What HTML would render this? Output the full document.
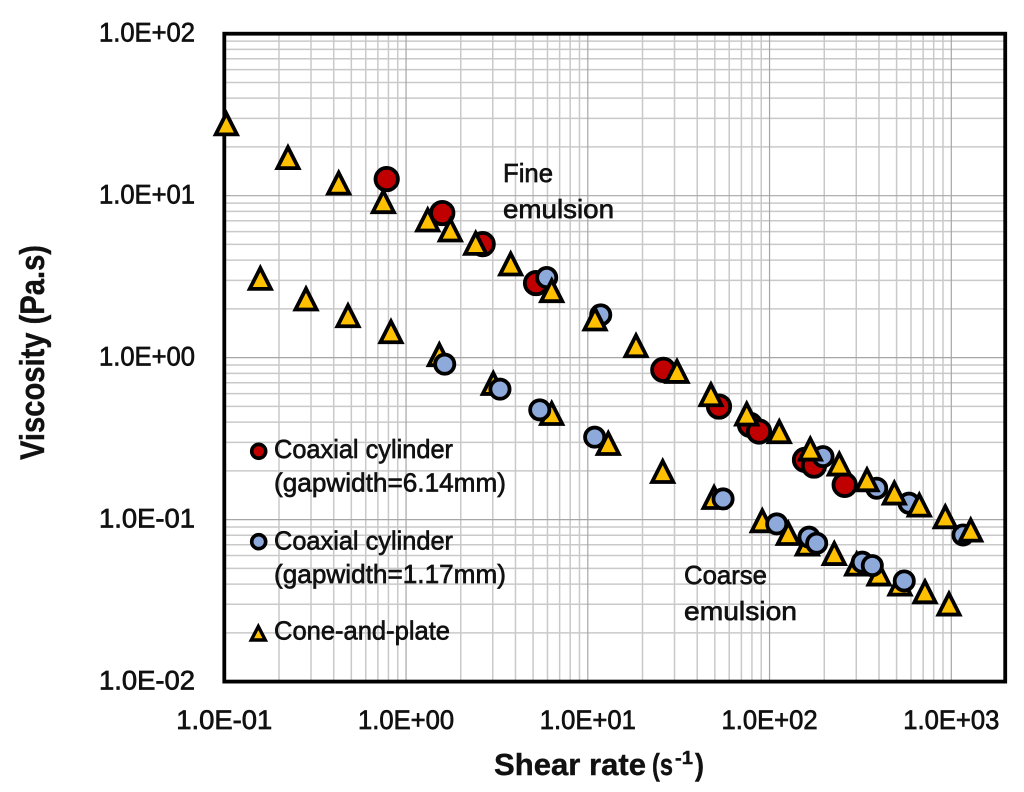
<!DOCTYPE html>
<html lang="en">
<head>
<meta charset="utf-8">
<title>Viscosity vs shear rate</title>
<style>
html,body{margin:0;padding:0;background:#fff;width:1024px;height:792px;overflow:hidden}
svg{display:block;filter:blur(.35px)}
text{font-family:"Liberation Sans",sans-serif;fill:#111}
.tick{font-size:26.5px;stroke:#111;stroke-width:.7px}
.lab{font-size:26px;stroke:#111;stroke-width:.65px}
.ttl{font-size:31px;font-weight:700;stroke:#111;stroke-width:.4px}
</style>
</head>
<body>
<svg id="chart" xmlns="http://www.w3.org/2000/svg" width="1024" height="792" viewBox="0 0 1024 792">
  <g id="grid"></g>
  <g id="frame"></g>
  <g id="ticks"></g>

  <g>
    <text class="ttl" x="494" y="775" textLength="152" lengthAdjust="spacingAndGlyphs">Shear rate</text>
    <text class="ttl" x="652" y="775" textLength="21" lengthAdjust="spacingAndGlyphs">(s</text>
    <text class="ttl" x="675" y="764" style="font-size:18px" textLength="18" lengthAdjust="spacingAndGlyphs">-1</text>
    <text class="ttl" x="695" y="775" textLength="9" lengthAdjust="spacingAndGlyphs">)</text>
  </g>
  <text class="ttl" transform="translate(44,460) rotate(-90)" x="0" y="0" style="font-size:34px" textLength="215" lengthAdjust="spacingAndGlyphs">Viscosity (Pa.s)</text>

  <g>
    <text class="lab" x="503" y="182" textLength="50" lengthAdjust="spacingAndGlyphs">Fine</text>
    <text class="lab" x="503" y="218" textLength="111" lengthAdjust="spacingAndGlyphs">emulsion</text>
  </g>
  <g>
    <text class="lab" x="684" y="584" textLength="83" lengthAdjust="spacingAndGlyphs">Coarse</text>
    <text class="lab" x="684" y="620" textLength="113" lengthAdjust="spacingAndGlyphs">emulsion</text>
  </g>

  <g id="marks"></g>

  <g>
    <g>
      <circle cx="258.7" cy="451.3" r="7" fill="#c00000" stroke="#000" stroke-width="3.6"></circle>
      <text class="lab" x="274" y="458" textLength="179" lengthAdjust="spacingAndGlyphs">Coaxial cylinder</text>
      <text class="lab" x="274" y="491.7" textLength="232" lengthAdjust="spacingAndGlyphs">(gapwidth=6.14mm)</text>
    </g>
    <g>
      <circle cx="258.7" cy="541.7" r="7" fill="#8eaadb" stroke="#000" stroke-width="3.6"></circle>
      <text class="lab" x="274" y="549.3" textLength="179" lengthAdjust="spacingAndGlyphs">Coaxial cylinder</text>
      <text class="lab" x="274" y="583" textLength="232" lengthAdjust="spacingAndGlyphs">(gapwidth=1.17mm)</text>
    </g>
    <g>
      <polygon points="258.3,626.5 251.3,640 265.3,640" fill="#ffc000" stroke="#000" stroke-width="3.4" stroke-linejoin="miter"></polygon>
      <text class="lab" x="274" y="639.3" textLength="176" lengthAdjust="spacingAndGlyphs">Cone-and-plate</text>
    </g>
  </g>
</svg>
<script>
const xTickLabels = ["1.0E-01", "1.0E+00", "1.0E+01", "1.0E+02", "1.0E+03"];
const yTickLabels = ["1.0E+02", "1.0E+01", "1.0E+00", "1.0E-01", "1.0E-02"];
const xDecades = [0.1, 1, 10, 100, 1000];
const yDecades = [100, 10, 1, 0.1, 0.01];
const minorSteps = [2, 3, 4, 5, 6, 7, 8, 9];
const xMax = 1980;
const yMin = 0.01;
const yMax = 100;

const fineRedX = [0.7826, 1.582, 2.64, 5.19, 26.03, 52.7, 78.1, 87.5, 156.7, 175.6, 259];
const fineRedY = [12.66, 7.81, 5.02, 2.886, 0.8407, 0.4989, 0.3845, 0.3497, 0.2337, 0.2156, 0.1638];

const fineBlueX = [5.94, 11.78, 196.9, 388.6, 585.3, 1160];
const fineBlueY = [3.124, 1.838, 0.2449, 0.1563, 0.1263, 0.0804];

const fineConeX = [0.1026, 0.224, 0.426, 0.75, 1.316, 1.752, 2.416, 3.765, 6.33, 10.96, 18.42, 30.96, 47.6, 74.9, 113.1, 167.6, 242, 343.7, 485.8, 666.6, 926.8, 1279];
const fineConeY = [28.1, 17.4, 12.1, 9.3, 7.17, 6.22, 5.14, 3.835, 2.623, 1.754, 1.2, 0.8325, 0.5976, 0.4541, 0.3531, 0.2761, 0.2231, 0.1784, 0.1477, 0.1245, 0.1054, 0.0872];

const coarseConeX = [0.1578, 0.2816, 0.4793, 0.8263, 1.524, 3.02, 6.33, 12.96, 25.83, 49.5, 91.2, 126.8, 161.3, 227.1, 301.6, 400.2, 522, 716.6, 971];
const coarseConeY = [3.124, 2.331, 1.838, 1.464, 1.056, 0.7019, 0.458, 0.299, 0.2008, 0.1387, 0.0996, 0.0831, 0.0715, 0.0625, 0.0538, 0.0467, 0.0405, 0.0363, 0.0305];

const coarseBlueX = [1.632, 3.287, 5.44, 10.91, 55.5, 109.5, 164.9, 181.7, 323.6, 367.6, 551];
const coarseBlueY = [0.9117, 0.6389, 0.4761, 0.3228, 0.1342, 0.0941, 0.0779, 0.0715, 0.0546, 0.052, 0.0418];

const NS = "http://www.w3.org/2000/svg";
const plotLeft = 224.3;
const plotTop = 33.7;
const xDecadePx = 181.75;
const yDecadePx = 161.97;

function xScale(v) {
  return plotLeft + (Math.log10(v) + 1) * xDecadePx;
}
function yScale(v) {
  return plotTop + (2 - Math.log10(v)) * yDecadePx;
}

const gridGroup = document.getElementById("grid");
const frameGroup = document.getElementById("frame");
const tickGroup = document.getElementById("ticks");
const markGroup = document.getElementById("marks");

function gridLine(x1, y1, x2, y2, major) {
  const el = document.createElementNS(NS, "line");
  
  
  el.setAttribute("x1", x1);
  el.setAttribute("y1", y1);
  el.setAttribute("x2", x2);
  el.setAttribute("y2", y2);
  el.setAttribute("stroke", major ? "#a6a6a6" : "#c9c9c9");
  el.setAttribute("stroke-width", major ? 1.2 : 1.5);
  gridGroup.appendChild(el);
}

const left = xScale(0.1);
const right = xScale(xMax);
const top_ = yScale(yMax);
const bottom = yScale(yMin);

xDecades.forEach(function (d) {
  minorSteps.forEach(function (m) {
    const v = d * m;
    if (v < xMax) {
      gridLine(xScale(v), top_, xScale(v), bottom, false);
    }
  });
});
yDecades.forEach(function (d) {
  minorSteps.forEach(function (m) {
    const v = d * m;
    if (v < yMax) {
      gridLine(left, yScale(v), right, yScale(v), false);
    }
  });
});
xDecades.forEach(function (d) {
  gridLine(xScale(d), top_, xScale(d), bottom, true);
});
yDecades.forEach(function (d) {
  gridLine(left, yScale(d), right, yScale(d), true);
});

const frameRect = document.createElementNS(NS, "rect");


frameRect.setAttribute("x", left);
frameRect.setAttribute("y", top_);
frameRect.setAttribute("width", right - left);
frameRect.setAttribute("height", bottom - top_);
frameRect.setAttribute("fill", "none");
frameRect.setAttribute("stroke", "#000");
frameRect.setAttribute("stroke-width", 3.8);
frameGroup.appendChild(frameRect);

xTickLabels.forEach(function (label, i) {
  const el = document.createElementNS(NS, "text");
  
  
  el.setAttribute("class", "tick");
  el.setAttribute("x", xScale(xDecades[i]) - 48);
  el.setAttribute("y", 729);
  el.setAttribute("textLength", 96);
  el.setAttribute("lengthAdjust", "spacingAndGlyphs");
  el.textContent = label;
  tickGroup.appendChild(el);
});
yTickLabels.forEach(function (label, i) {
  const el = document.createElementNS(NS, "text");
  
  
  el.setAttribute("class", "tick");
  el.setAttribute("x", 99);
  el.setAttribute("y", yScale(yDecades[i]) + 8);
  el.setAttribute("textLength", 96);
  el.setAttribute("lengthAdjust", "spacingAndGlyphs");
  el.textContent = label;
  tickGroup.appendChild(el);
});

function drawCircles(xs, ys, radius, fill) {
  xs.forEach(function (xv, i) {
    const el = document.createElementNS(NS, "circle");
    
    
    el.setAttribute("cx", xScale(xv));
    el.setAttribute("cy", yScale(ys[i]));
    el.setAttribute("r", radius);
    el.setAttribute("fill", fill);
    el.setAttribute("stroke", "#000");
    el.setAttribute("stroke-width", 3.8);
    markGroup.appendChild(el);
  });
}
function drawTriangles(xs, ys) {
  xs.forEach(function (xv, i) {
    const cx = xScale(xv);
    const cy = yScale(ys[i]);
    const el = document.createElementNS(NS, "polygon");
    
    
    el.setAttribute("points",
      cx + "," + (cy - 9.5) + " " +
      (cx - 10.6) + "," + (cy + 11.4) + " " +
      (cx + 10.6) + "," + (cy + 11.4));
    el.setAttribute("fill", "#ffc000");
    el.setAttribute("stroke", "#000");
    el.setAttribute("stroke-width", 3.8);
    el.setAttribute("stroke-linejoin", "miter");
    markGroup.appendChild(el);
  });
}

drawCircles(fineRedX, fineRedY, 11.2, "#c00000");
drawCircles(fineBlueX, fineBlueY, 9.6, "#8eaadb");
drawTriangles(fineConeX, fineConeY);
drawTriangles(coarseConeX, coarseConeY);
drawCircles(coarseBlueX, coarseBlueY, 9.6, "#8eaadb");
</script>
</body>
</html>
